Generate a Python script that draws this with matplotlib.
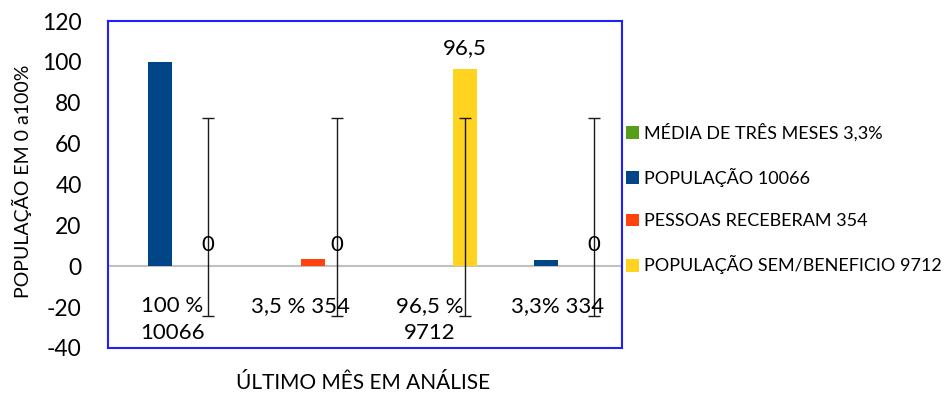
import numpy as np
import matplotlib
matplotlib.use("Agg")
import matplotlib.pyplot as plt
from matplotlib.patches import Patch

plt.rcParams['font.family'] = ['Lato', 'DejaVu Sans']

categories = ["100 %\n10066", "3,5 % 354", "96,5 %\n9712", "3,3% 334"]
series_names = ["MÉDIA DE TRÊS MESES 3,3%", "POPULAÇÃO 10066",
                "PESSOAS RECEBERAM 354", "POPULAÇÃO SEM/BENEFICIO 9712"]
media_tres_meses = [0, 0, 0, 0]
populacao = [100, 0, 0, 3.3]
pessoas_receberam = [0, 3.5, 0, 0]
populacao_sem_beneficio = [0, 0, 96.5, 0]
yticks = [-40, -20, 0, 20, 40, 60, 80, 100, 120]

colors = ["#579d1c", "#004586", "#ff420e", "#ffd320"]
all_series = [media_tres_meses, populacao, pessoas_receberam, populacao_sem_beneficio]

fig = plt.figure(figsize=(9.44, 3.94), dpi=100)
ax = fig.add_axes([108 / 944, 46 / 394, 514 / 944, 327 / 394])

x = np.arange(len(categories))
bw = 0.187
for k, (vals, col, name) in enumerate(zip(all_series, colors, series_names)):
    ax.bar(x + (k - 1.5) * bw, vals, width=bw, color=col, label=name, zorder=2)

# standard-deviation error bars on the last series, centred on its mean
last = np.array(populacao_sem_beneficio, dtype=float)
mean = last.mean()
sd = last.std(ddof=1)
xe = x + 1.5 * bw
ax.errorbar(xe, np.full_like(xe, mean), yerr=sd, fmt='none', ecolor='#1a1a1a',
            elinewidth=1.0, capsize=4.5, capthick=1.0, zorder=3)

# value labels on the last series
for xi, v in zip(xe, populacao_sem_beneficio):
    txt = f"{v:g}".replace('.', ',')
    ax.annotate(txt, (xi, v), xytext=(0, 8), textcoords='offset points',
                ha='center', va='bottom', fontsize=16, zorder=4)

ax.axhline(0, color='#c0c0c0', lw=1.5, zorder=1)

# category labels below the zero line
for xi, lab in zip(x, categories):
    ax.text(xi, -14.5, lab, ha='center', va='top', fontsize=16,
            linespacing=1.45, zorder=4)

ax.set_xlim(-0.5, 3.5)
ax.set_ylim(-40, 120)
ax.set_yticks(yticks)
ax.set_yticklabels([str(t) for t in yticks], fontsize=16.5)
ax.set_xticks([])
ax.tick_params(axis='y', length=0, pad=19)
for s in ax.spines.values():
    s.set_color('#1f1fff')
    s.set_linewidth(1.5)

fig.text(22 / 944, 1 - 181 / 394, "POPULAÇÃO EM 0 a100%", rotation=90,
         ha='center', va='center', fontsize=14)
fig.text(363 / 944, 1 - 383 / 394, "ÚLTIMO MÊS EM ANÁLISE",
         ha='center', va='center', fontsize=15)

handles = [Patch(facecolor=c, edgecolor='none') for c in colors]
fig.legend(handles, series_names, loc='center left',
           bbox_to_anchor=(626 / 944, 1 - 199 / 394), frameon=False,
           fontsize=13, handlelength=0.72, handleheight=0.72,
           handletextpad=0.3, labelspacing=1.45, borderpad=0, borderaxespad=0)

fig.savefig("out.png", dpi=100)
